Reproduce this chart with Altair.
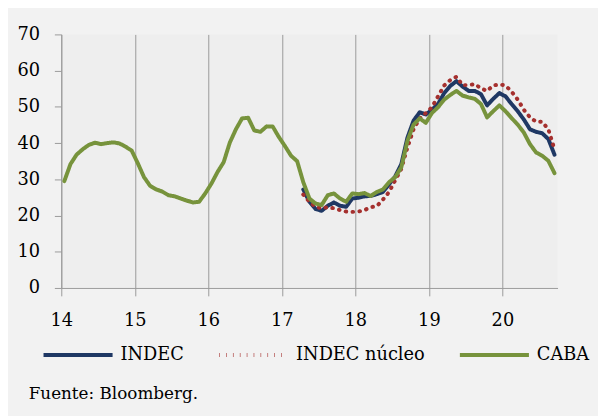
import altair as alt
import pandas as pd

# Monthly year-on-year inflation (%)
caba_start = (2014, 1)
caba = [29.5, 34.2, 36.8, 38.3, 39.5, 40.1, 39.7, 40.0, 40.2, 39.9, 39.0, 37.9,
        34.4, 30.6, 28.2, 27.2, 26.6, 25.6, 25.3, 24.7, 24.1, 23.6, 23.8, 26.1,
        28.8, 32.0, 34.7, 40.1, 43.8, 46.8, 47.0, 43.5, 43.1, 44.6, 44.6, 41.7,
        39.2, 36.5, 35.0, 29.2, 24.7, 23.3, 22.9, 25.6, 26.1, 24.7, 23.8, 26.1,
        25.9, 26.2, 25.4, 26.5, 27.2, 29.2, 30.6, 33.3, 40.6, 45.1, 46.8, 45.6,
        48.3, 49.9, 52.0, 53.3, 54.4, 53.1, 52.6, 52.2, 50.8, 47.1, 48.8, 50.4,
        48.8, 46.9, 45.1, 42.9, 39.7, 37.4, 36.5, 35.1, 31.7]

indec_start = (2017, 4)
indec = [27.2, 23.8, 21.8, 21.3, 22.7, 23.6, 22.7, 22.4, 24.7,
         24.9, 25.3, 25.4, 25.9, 26.5, 28.6, 30.8, 34.2, 41.5, 46.2, 48.5, 47.9,
         49.2, 50.8, 53.8, 55.8, 57.1, 55.6, 54.4, 54.4, 53.5, 50.4, 52.2, 53.8,
         52.9, 50.8, 48.8, 46.5, 43.8, 43.1, 42.7, 41.1, 36.8]

nucleo_start = (2017, 4)
nucleo = [25.8, 23.8, 22.4, 22.0, 22.3, 22.0, 21.5, 21.1, 21.0,
          21.1, 21.5, 22.3, 22.6, 24.4, 26.5, 29.7, 32.9, 38.8, 43.8, 46.8, 48.3,
          49.9, 52.9, 55.9, 57.4, 58.3, 56.0, 56.0, 56.3, 55.1, 54.4, 55.9, 56.2,
          55.9, 54.2, 52.0, 49.2, 47.1, 45.9, 45.9, 43.8, 38.3]

series_names = ["INDEC", "INDEC núcleo", "CABA"]
series_colors = ["#1f3864", "#a5302e", "#77933c"]
x_ticks = [2014, 2015, 2016, 2017, 2018, 2019, 2020]
y_ticks = [0, 10, 20, 30, 40, 50, 60, 70]


def to_rows(name, start, values, order):
    y0, m0 = start
    rows = []
    for i, v in enumerate(values):
        k = (y0 * 12 + (m0 - 1)) + i
        year, month = divmod(k, 12)
        rows.append({"serie": name, "t": year + (month + 0.5) / 12, "v": v, "o": order})
    return rows


rows = (to_rows("INDEC", indec_start, indec, 0)
        + to_rows("INDEC núcleo", nucleo_start, nucleo, 1)
        + to_rows("CABA", caba_start, caba, 2))
df = pd.DataFrame(rows)

FONT = "DejaVu Serif"
AXIS_GRAY = "#9a9a9a"

chart = alt.Chart(df).mark_line(strokeWidth=4, strokeCap="round", strokeJoin="round").encode(
    x=alt.X("t:Q", scale=alt.Scale(domain=[2014, 2020.75], nice=False, zero=False),
            axis=alt.Axis(values=x_ticks, labelExpr="datum.value - 2000", title=None,
                          grid=True, gridColor=AXIS_GRAY, gridWidth=1,
                          domainColor=AXIS_GRAY, tickColor=AXIS_GRAY, tickSize=8,
                          labelPadding=16, labelFont=FONT, labelFontSize=18,
                          labelColor="#000000", labelFlush=False)),
    y=alt.Y("v:Q", scale=alt.Scale(domain=[0, 70], nice=False),
            axis=alt.Axis(values=y_ticks, title=None, grid=False,
                          domainColor=AXIS_GRAY, tickColor=AXIS_GRAY, tickSize=7,
                          labelPadding=15, labelFont=FONT, labelFontSize=18,
                          labelColor="#000000")),
    color=alt.Color("serie:N", scale=alt.Scale(domain=series_names, range=series_colors),
                    legend=alt.Legend(title=None, orient="none", direction="horizontal",
                                      legendX=-20, legendY=288, gridAlign="none",
                                      symbolType="stroke", symbolSize=4900,
                                      symbolStrokeWidth=4, labelFont=FONT,
                                      labelFontSize=18, labelColor="#000000",
                                      labelOffset=6, columnPadding=27)),
    strokeDash=alt.StrokeDash("serie:N",
                              scale=alt.Scale(domain=series_names,
                                              range=[[1, 0], [0.6, 6.4], [1, 0]]),
                              legend=None),
    order=alt.Order("o:Q"),
    detail="serie:N",
).properties(
    width=503,
    height=257,
    autosize=alt.AutoSizeParams(type="none"),
    padding={"left": 54, "top": 24, "right": 41, "bottom": 127},
    title=alt.TitleParams("Fuente: Bloomberg.", orient="bottom", anchor="start",
                          frame="group", dx=-33, offset=23, font=FONT, fontSize=17,
                          fontWeight="normal", color="#000000"),
).configure(
    background="#f2f2f2",
).configure_view(
    fill="#eeeeee", stroke=None,
)

chart.save("out.html", embed_options={"renderer": "svg", "actions": False})
